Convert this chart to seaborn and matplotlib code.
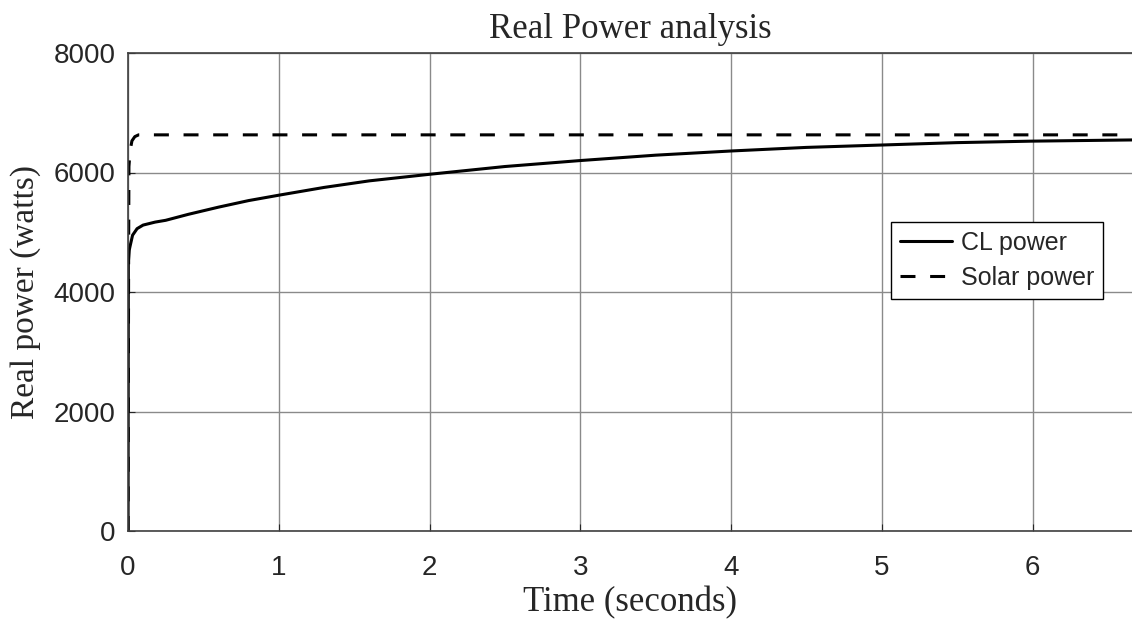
import numpy as np
import pandas as pd
import matplotlib
matplotlib.use("Agg")
import matplotlib.pyplot as plt
import seaborn as sns

# values
cl_time = [0, 0.002, 0.008, 0.013, 0.03, 0.06, 0.1, 0.18, 0.25, 0.4, 0.6, 0.8, 1.0,
           1.3, 1.6, 2.0, 2.5, 3.0, 3.5, 4.0, 4.5, 5.0, 5.5, 6.0, 6.66]
cl_power = [0, 4500, 4700, 4760, 4950, 5060, 5120, 5170, 5200, 5300, 5420, 5530, 5620,
            5750, 5860, 5970, 6100, 6200, 6290, 6360, 6420, 6460, 6500, 6525, 6545]
solar_time = [0, 0.004, 0.006, 0.009, 0.015, 0.026, 0.045, 0.07, 6.66]
solar_power = [0, 4600, 6100, 6200, 6380, 6530, 6600, 6630, 6630]

df_cl = pd.DataFrame({"t": cl_time, "p": cl_power})
df_solar = pd.DataFrame({"t": solar_time, "p": solar_power})

sns.set_style("whitegrid")
plt.rcParams["font.family"] = ["Liberation Sans", "DejaVu Sans"]

fig = plt.figure(figsize=(11.32, 6.25), dpi=100)
ax = fig.add_axes([0.1131, 0.1504, 0.8869, 0.7648])

sns.lineplot(x="t", y="p", data=df_cl, ax=ax, color="black", linewidth=2.2,
             label="CL power", estimator=None, sort=False)
sns.lineplot(x="t", y="p", data=df_solar, ax=ax, color="black", linewidth=2.2,
             linestyle=(0, (4.9, 4.8)), label="Solar power", estimator=None, sort=False)

ax.set_xlim(0, 6.66)
ax.set_ylim(0, 8000)
ax.set_xticks(range(0, 7))
ax.set_yticks(range(0, 8001, 2000))
ax.grid(True, color="#8a8a8a", linewidth=1.0)
ax.tick_params(labelsize=20, colors="#262626", direction="in", length=5,
               left=True, bottom=True)
ax.tick_params(axis="x", pad=17)
ax.tick_params(axis="y", pad=9)
for side in ["left", "bottom", "top"]:
    ax.spines[side].set_color("#404040")
    ax.spines[side].set_linewidth(1.2)
ax.spines["right"].set_visible(False)

serif = ["Liberation Serif", "DejaVu Serif"]
ax.set_title("Real Power analysis", family=serif, fontsize=25, pad=11)
ax.set_xlabel("Time (seconds)", family=serif, fontsize=25, labelpad=4)
ax.set_ylabel("Real power (watts)", family=serif, fontsize=24, labelpad=9)

leg = ax.legend(loc="upper right", bbox_to_anchor=((1103 - 128) / 1004, (531 - 222) / 478),
                fontsize=18, frameon=True, fancybox=False, framealpha=1, edgecolor="black",
                handlelength=2.1, borderpad=0.35, labelspacing=0.45, handletextpad=0.35,
                borderaxespad=0)
leg.get_frame().set_linewidth(1.0)

fig.savefig("out.png", dpi=100)
